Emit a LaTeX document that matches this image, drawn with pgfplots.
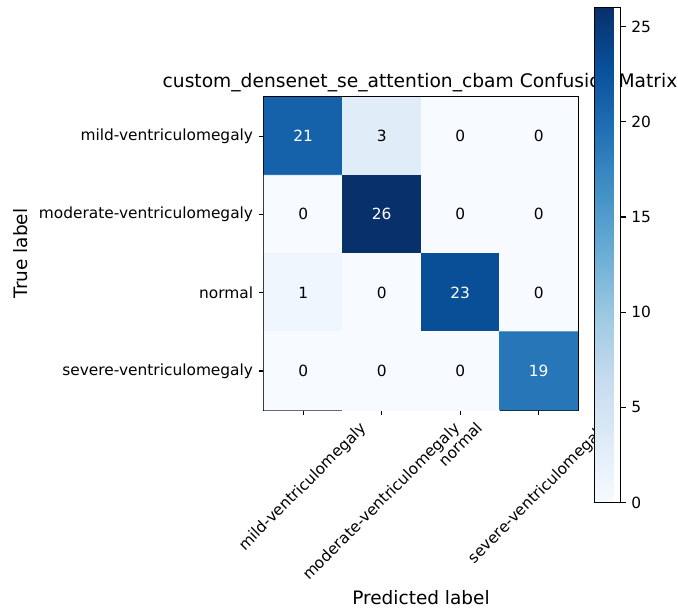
\documentclass[border=0pt]{standalone}
\usepackage{fontspec}
\setmainfont{DejaVu Sans}
\usepackage{pgfplots}
\pgfplotsset{compat=1.18}
\usetikzlibrary{calc}

% matplotlib "Blues" colour map
\pgfplotsset{
  colormap={blues}{
    rgb255=(247,251,255) rgb255=(222,235,247) rgb255=(198,219,239)
    rgb255=(158,202,225) rgb255=(107,174,214) rgb255=(66,146,198)
    rgb255=(33,113,181)  rgb255=(8,81,156)    rgb255=(8,48,107)
  }
}

% confusion matrix: x = predicted class, y = true class, c = count
\pgfplotstableread{
x y c
0 0 21
1 0 3
2 0 0
3 0 0
0 1 0
1 1 26
2 1 0
3 1 0
0 2 1
1 2 0
2 2 23
3 2 0
0 3 0
1 3 0
2 3 0
3 3 19
}\cmtable

\begin{document}
\begin{tikzpicture}
% title goes first so that the colour bar is drawn over it
\node[font=\fontsize{14}{17}\selectfont, anchor=base] at (117pt,242.25pt)
  {custom\_densenet\_se\_attention\_cbam Confusion Matrix};

\begin{axis}[
  at={(0pt,0pt)}, anchor=south west,
  scale only axis, width=235.5pt, height=234.75pt,
  xmin=-0.5, xmax=3.5, ymin=-0.5, ymax=3.5,
  y dir=reverse,
  axis line style={line width=0.92pt},
  tick align=outside,
  major tick length=4pt,
  every tick/.style={black, line width=0.92pt},
  xtick pos=bottom, ytick pos=left,
  xtick={0,1,2,3}, ytick={0,1,2,3},
  xticklabels={
    \rotatebox{45}{mild-ventriculomegaly},
    \rotatebox{45}{moderate-ventriculomegaly},
    \rotatebox{45}{normal},
    \rotatebox{45}{severe-ventriculomegaly}},
  yticklabels={mild-ventriculomegaly,moderate-ventriculomegaly,normal,severe-ventriculomegaly},
  ticklabel style={font=\fontsize{11.55}{13}\selectfont},
  xticklabel style={anchor=north, inner sep=0pt, yshift=-4pt},
  yticklabel style={anchor=east, inner sep=0pt, xshift=-4pt},
  xlabel={Predicted label}, ylabel={True label},
  label style={font=\fontsize{13.86}{16}\selectfont},
  xlabel style={yshift=-2.25pt},
  ylabel style={yshift=5pt},
  colormap name=blues,
  point meta min=0, point meta max=26,
  colorbar,
  colorbar style={
    at={($(parent axis.east)+(3.75pt,-1.15pt)$)}, anchor=west,
    width=19.5pt, height=371.25pt,
    ytick={0,5,10,15,20,25},
    ytick pos=right, yticklabel pos=right,
    tick align=outside, major tick length=4pt,
    every tick/.style={black, line width=0.92pt},
    axis line style={line width=0.92pt},
    yticklabel style={font=\fontsize{11.55}{13}\selectfont, inner sep=0pt, xshift=4pt,
      /pgf/number format/assume math mode=true},
  },
  cellnum/.style={only marks, mark=none, point meta=explicit,
    nodes near coords, nodes near coords align=center,
    every node near coord/.append style={font=\fontsize{11.55}{13}\selectfont,
      anchor=center, text=#1,
      /pgf/number format/assume math mode=true},
    unbounded coords=discard},
]
\addplot[matrix plot*, mesh/cols=4, point meta=explicit] table[x=x, y=y, meta=c] {\cmtable};

% counts written in each cell: black on the light cells, white on the dark ones
\addplot[cellnum=black, y filter/.expression={\thisrow{c}>13 ? nan : y}]
  table[x=x, y=y, meta=c] {\cmtable};
\addplot[cellnum=white, y filter/.expression={\thisrow{c}>13 ? y : nan}]
  table[x=x, y=y, meta=c] {\cmtable};
\end{axis}

\pgfresetboundingbox
\path[use as bounding box] (-198pt,-151.5pt) rectangle (310.5pt,307.5pt);
\end{tikzpicture}
\end{document}
